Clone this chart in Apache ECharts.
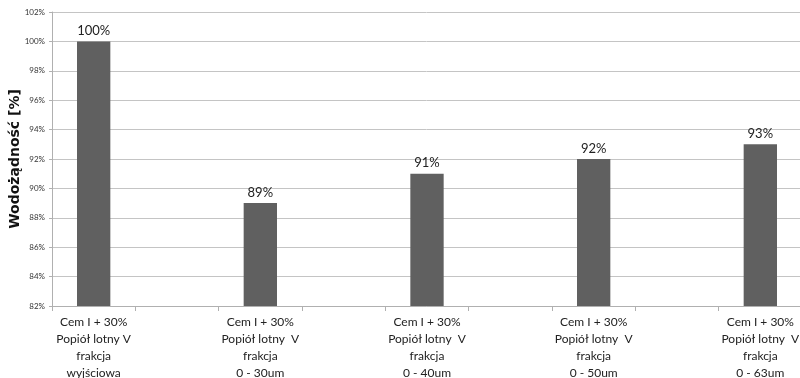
<!DOCTYPE html>
<html>
<head>
<meta charset="utf-8">
<script src="https://cdn.jsdelivr.net/npm/echarts@6/dist/echarts.min.js"></script>
<style>
  html, body { margin: 0; padding: 0; background: #fff; }
  #chart { width: 800px; height: 378px; }
</style>
</head>
<body>
<div id="chart"></div>
<script>
  // Data
  const categories = [
    'Cem I + 30%\nPopiół lotny V\nfrakcja\nwyjściowa',
    'Cem I + 30%\nPopiół lotny  V\nfrakcja\n0 - 30um',
    'Cem I + 30%\nPopiół lotny  V\nfrakcja\n0 - 40um',
    'Cem I + 30%\nPopiół lotny  V\nfrakcja\n0 - 50um',
    'Cem I + 30%\nPopiół lotny  V\nfrakcja\n0 - 63um'
  ];
  const values = [100, 89, 91, 92, 93];
  const yTicks = [82, 84, 86, 88, 90, 92, 94, 96, 98, 100, 102];

  // the original spreads bars over 9 slots (empty slot between each pair)
  const slotNames = [];
  const slotValues = [];
  categories.forEach((c, i) => {
    if (i > 0) {
      slotNames.push('');
      slotValues.push('-');
    }
    slotNames.push(c);
    slotValues.push(values[i]);
  });

  const chart = echarts.init(document.getElementById('chart'));

  const option = {
    animation: false,
    textStyle: { fontFamily: 'Lato, "Open Sans", sans-serif' },
    grid: {
      top: 12,
      left: 52,
      right: -2,
      bottom: 72,
      outerBoundsMode: 'none',
    },
    xAxis: {
      type: 'category',
      data: slotNames,
      axisLine: { lineStyle: { color: '#b0b0b0' } },
      axisTick: { show: true, length: 5, lineStyle: { color: '#b0b0b0' } },
      axisLabel: {
        interval: 0,
        color: '#222',
        fontSize: 12,
        lineHeight: 17,
        margin: 8,
      },
    },
    yAxis: {
      type: 'value',
      min: yTicks[0],
      max: yTicks[yTicks.length - 1],
      interval: 2,
      name: 'Wodożądność [%]',
      nameLocation: 'middle',
      nameRotate: 90,
      nameGap: 30,
      nameMoveOverlap: false,
      nameTextStyle: {
        fontSize: 14,
        fontWeight: 'bold',
        color: '#111',
        fontFamily: '"DejaVu Sans", sans-serif',
      },
      axisLine: { show: true, lineStyle: { color: '#b0b0b0' } },
      axisTick: { show: true, length: 3, lineStyle: { color: '#b0b0b0' } },
      axisLabel: {
        formatter: '{value}%',
        fontSize: 8,
        color: '#333',
        margin: 7,
      },
      splitLine: { lineStyle: { color: '#c4c4c4' } },
    },
    series: [
      {
        type: 'bar',
        data: slotValues,
        barWidth: '40%',
        itemStyle: { color: '#606060' },
        label: {
          show: true,
          position: 'top',
          formatter: '{c}%',
          fontSize: 13,
          color: '#222',
          distance: 4,
        },
      },
    ],
  };

  chart.setOption(option);
</script>
</body>
</html>
